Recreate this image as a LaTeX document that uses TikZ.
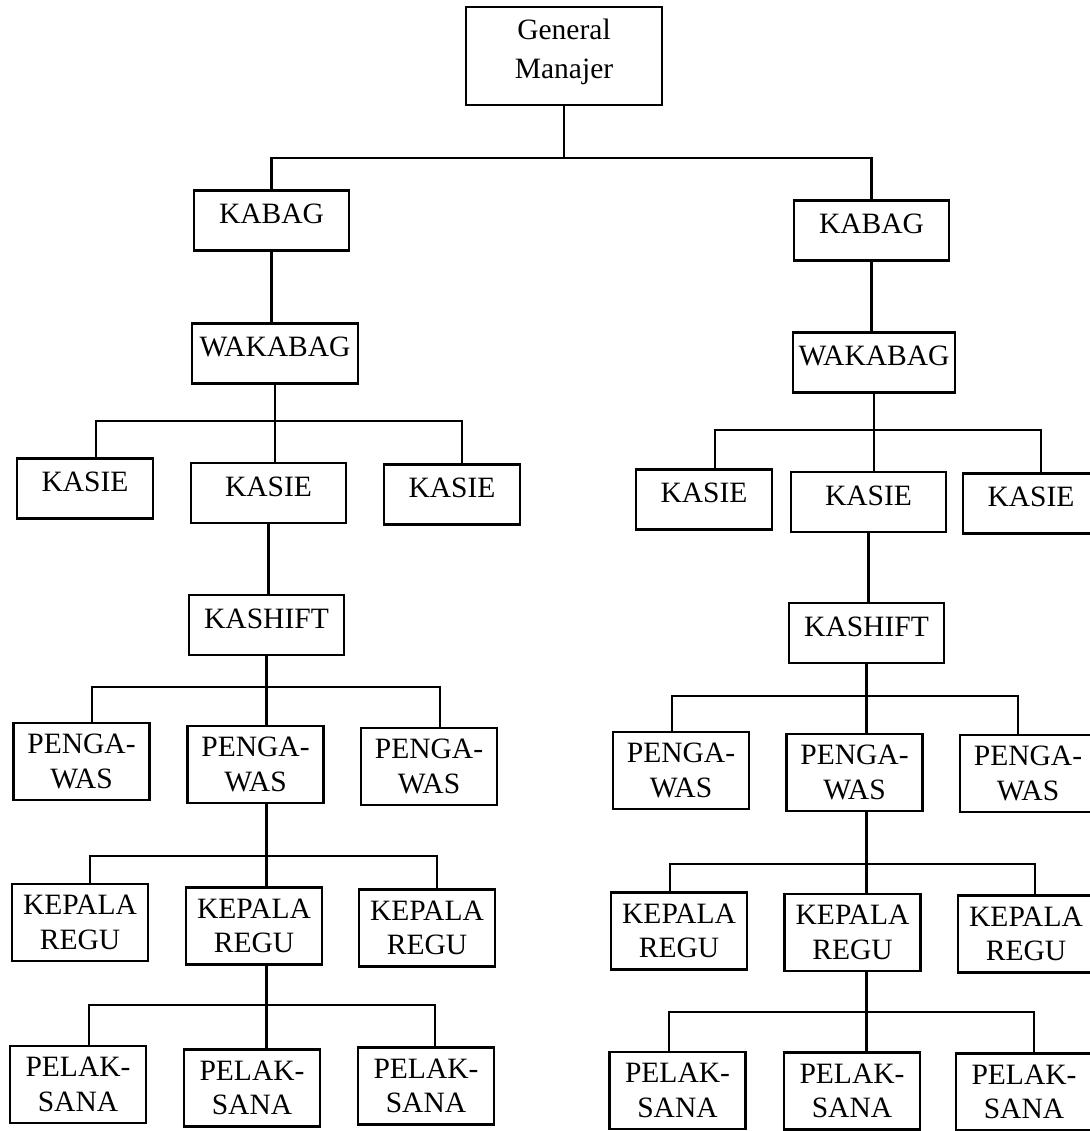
\documentclass[tikz,border=0pt]{standalone}
\usepackage{fontspec}
\setmainfont{Liberation Serif}
\begin{document}
\begin{tikzpicture}[x=0.02cm,y=-0.02cm,line width=1.3pt,
        unit/.style={draw,minimum width=2.72cm,minimum height=1.2cm,align=center,
            inner sep=1pt,text height=11.5pt,text depth=8pt,
            font=\fontsize{16.8}{19.6}\selectfont},
        twoline/.style={draw,minimum width=2.72cm,minimum height=1.54cm,align=center,
            inner sep=1pt,font=\fontsize{16.8}{19.6}\selectfont}]
    \useasboundingbox (0,0) rectangle (1089,1131);

    \node[twoline,minimum width=3.92cm,minimum height=1.96cm,
        font=\fontsize{16.8}{21}\selectfont] (gm) at (564,56)
        {General\\[1pt]Manajer\rule[-8.5pt]{0pt}{8.5pt}};
    \node[unit,minimum width=3.1cm] (kabagL) at (271.5,220.5) {KABAG};
    \node[unit,minimum width=3.1cm] (kabagR) at (871.5,230.5) {KABAG};
    \node[unit,minimum width=3.32cm] (wakabagL) at (275,353.5) {WAKABAG};
    \node[unit,minimum width=3.24cm] (wakabagR) at (874,362.5) {WAKABAG};

    \foreach \i/\x/\y/\w in {1/85/488.5/2.72,2/268.5/493/3.1,3/452/494.5/2.72}
        \node[unit,minimum width=\w cm] (kasieL\i) at (\x,\y) {KASIE};
    \foreach \i/\x/\y/\w in {1/704/499.5/2.72,2/868.5/502/3.1,3/1031/503.5/2.72}
        \node[unit,minimum width=\w cm] (kasieR\i) at (\x,\y) {KASIE};
    \node[unit,minimum width=3.1cm] (kashiftL) at (266.5,625) {KASHIFT};
    \node[unit,minimum width=3.1cm] (kashiftR) at (866.5,633) {KASHIFT};

    \foreach \i/\x/\y in {1/81.5/761.5,2/255.5/764.5,3/429/766.5}
        \node[twoline] (pengL\i) at (\x,\y) {PENGA-\\WAS};
    \foreach \i/\x/\y in {1/681/770.5,2/854.5/772.5,3/1028/773.5}
        \node[twoline] (pengR\i) at (\x,\y) {PENGA-\\WAS};
    \foreach \i/\x/\y in {1/80/922.5,2/254/926,3/427/928}
        \node[twoline] (reguL\i) at (\x,\y) {KEPALA\\REGU};
    \foreach \i/\x/\y in {1/679/931,2/852.5/932.5,3/1026/934}
        \node[twoline] (reguR\i) at (\x,\y) {KEPALA\\REGU};
    \foreach \i/\x/\y in {1/78/1084.5,2/252/1088,3/426/1086}
        \node[twoline] (pelL\i) at (\x,\y) {PELAK-\\SANA};
    \foreach \i/\x/\y in {1/677.5/1090.5,2/852/1091,3/1024/1092}
        \node[twoline] (pelR\i) at (\x,\y) {PELAK-\\SANA};

    % garis penghubung
    \coordinate (busTop) at (gm.south |- 0,158);
    \coordinate (busL1) at (wakabagL.south |- 0,421);
    \coordinate (busL2) at (kashiftL.south |- 0,687);
    \coordinate (busL3) at (kashiftL.south |- 0,856);
    \coordinate (busL4) at (kashiftL.south |- 0,1005);
    \coordinate (busR1) at (wakabagR.south |- 0,430);
    \coordinate (busR2) at (kashiftR.south |- 0,696);
    \coordinate (busR3) at (kashiftR.south |- 0,864);
    \coordinate (busR4) at (kashiftR.south |- 0,1012);

    \draw (gm.south) -- (busTop);
    \draw (kabagL.north) |- (busTop) -| (kabagR.north);

    \draw (kabagL.south) -- (kabagL.south |- wakabagL.north);
    \draw (wakabagL.south) -- (wakabagL.south |- kasieL2.north);
    \draw ([xshift=2.2mm]kasieL1.north) |- (busL1) -| ([xshift=2mm]kasieL3.north);
    \draw (kasieL2.south) -- (kasieL2.south |- kashiftL.north);
    \draw (kashiftL.south) -- (kashiftL.south |- pengL2.north);
    \draw ([xshift=2.1mm]pengL1.north) |- (busL2) -| ([xshift=2.2mm]pengL3.north);
    \draw (kashiftL.south |- pengL2.south) -- (kashiftL.south |- reguL2.north);
    \draw ([xshift=2mm]reguL1.north) |- (busL3) -| ([xshift=2mm]reguL3.north);
    \draw (kashiftL.south |- reguL2.south) -- (kashiftL.south |- pelL2.north);
    \draw ([xshift=2.2mm]pelL1.north) |- (busL4) -| ([xshift=1.8mm]pelL3.north);

    \draw (kabagR.south) -- (kabagR.south |- wakabagR.north);
    \draw (wakabagR.south) -- (wakabagR.south |- kasieR2.north);
    \draw ([xshift=2.2mm]kasieR1.north) |- (busR1) -| ([xshift=2mm]kasieR3.north);
    \draw (kasieR2.south) -- (kasieR2.south |- kashiftR.north);
    \draw (kashiftR.south) -- (kashiftR.south |- pengR2.north);
    \draw ([xshift=-1.8mm]pengR1.north) |- (busR2) -| ([xshift=-2mm]pengR3.north);
    \draw (kashiftR.south |- pengR2.south) -- (kashiftR.south |- reguR2.north);
    \draw ([xshift=-1.8mm]reguR1.north) |- (busR3) -| ([xshift=1.8mm]reguR3.north);
    \draw (kashiftR.south |- reguR2.south) -- (kashiftR.south |- pelR2.north);
    \draw ([xshift=-1.7mm]pelR1.north) |- (busR4) -| ([xshift=2mm]pelR3.north);
\end{tikzpicture}
\end{document}
